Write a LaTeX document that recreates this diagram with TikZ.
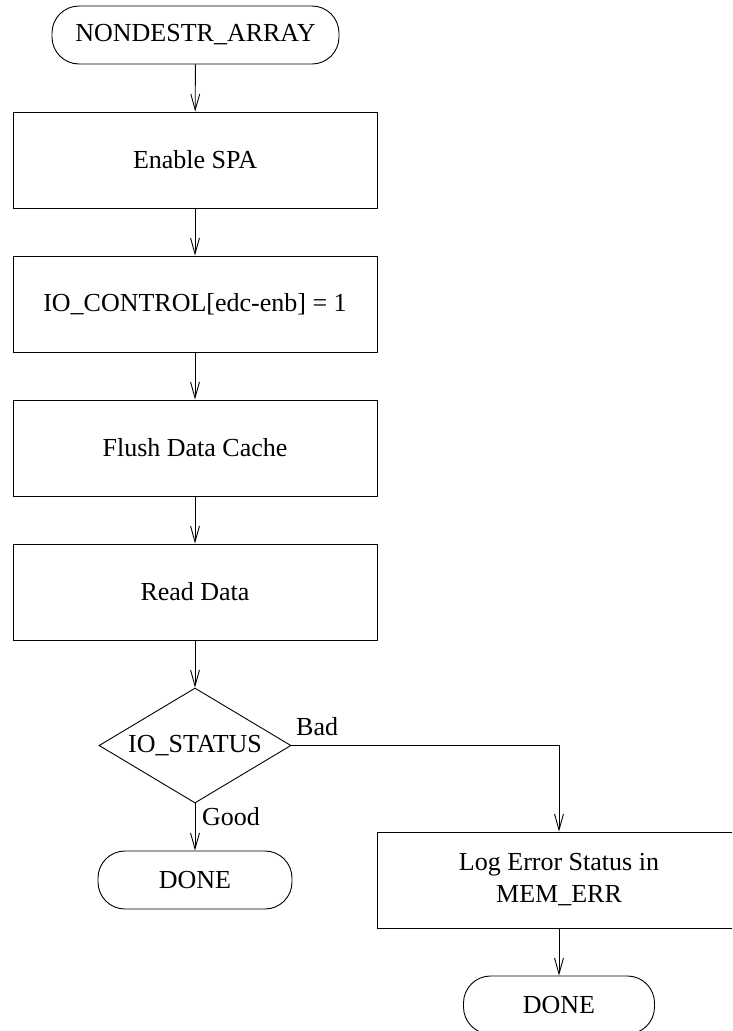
\documentclass[tikz,border=0pt]{standalone}
\usepackage{fontspec}
\setmainfont{Liberation Serif}
\usetikzlibrary{shapes.geometric,arrows.meta}
\tikzset{
  base/.style={draw=black, line width=0.9pt, inner sep=0pt, font=\fontsize{26}{32}\selectfont, align=center},
  terminal/.style={base, rectangle, rounded corners=27pt, minimum height=58pt},
  procbox/.style={base, rectangle, minimum width=364pt, minimum height=96pt},
  decision/.style={base, diamond, aspect=1.67, minimum width=192pt, minimum height=115pt},
  flow/.style={draw=black, line width=0.9pt, -{Straight Barb[length=16pt,width=9pt,line width=0.9pt]}},
  lbl/.style={font=\fontsize{26}{32}\selectfont, inner sep=0pt, anchor=base west}
}
\begin{document}
\begin{tikzpicture}[x=1pt,y=-1pt]
\useasboundingbox (0,0) rectangle (732,1031);
\clip (0,0) rectangle (732,1031);
\node[terminal, minimum width=287pt] (start) at (195.5,35) {NONDESTR\_ARRAY};
\node[procbox] (b1) at (195,160) {Enable SPA};
\node[procbox] (b2) at (195,304) {IO\_CONTROL[edc-enb] = 1};
\node[procbox] (b3) at (195,448) {Flush Data Cache};
\node[procbox] (b4) at (195,592) {Read Data};
\node[decision] (dec) at (195,745.5) {IO\_STATUS};
\node[terminal, minimum width=194pt] (done1) at (195,880) {DONE};
\node[procbox] (log) at (559,880) {Log Error Status in\\MEM\_ERR};
\node[terminal, minimum width=191pt] (done2) at (559,1005) {DONE};
\draw[flow] (start) -- (b1);
\draw[flow] (b1) -- (b2);
\draw[flow] (b2) -- (b3);
\draw[flow] (b3) -- (b4);
\draw[flow] (b4) -- (dec);
\draw[flow] (dec.south) -- (done1.north);
\draw[flow] (dec.east) -| (log.north);
\draw[flow] (log) -- (done2);
\node[lbl] (bad) at (296,735) {Bad};
\node[lbl] (good) at (202,825) {Good};
\end{tikzpicture}
\end{document}
